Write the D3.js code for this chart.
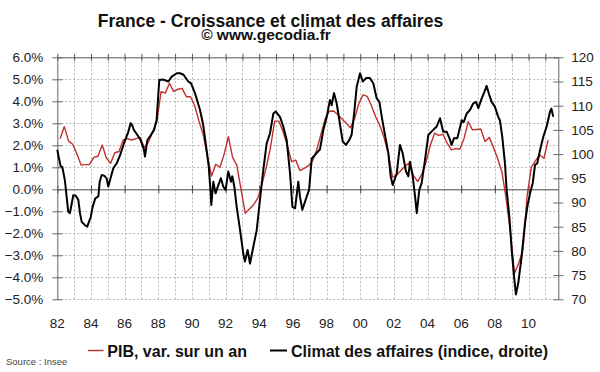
<!DOCTYPE html>
<html><head><meta charset="utf-8">
<script src="https://cdn.jsdelivr.net/npm/d3@7"></script>
<style>body{margin:0;background:#fff}svg{display:block}</style>
</head><body>
<svg id="chart" width="600" height="372"></svg>
<script>
// ---- data ----
const title = "France - Croissance et climat des affaires";
const subtitle = "© www.gecodia.fr";
const source = "Source : Insee";
const pibLabel = "PIB, var. sur un an";
const climatLabel = "Climat des affaires (indice, droite)";

const leftTicks = [-5, -4, -3, -2, -1, 0, 1, 2, 3, 4, 5, 6];
const rightTicks = [70, 75, 80, 85, 90, 95, 100, 105, 110, 115, 120];
const yearLabels = ["82","84","86","88","90","92","94","96","98","00","02","04","06","08","10"];
const yearTicks = [1982,1984,1986,1988,1990,1992,1994,1996,1998,2000,2002,2004,2006,2008,2010];

// quarterly GDP y/y growth (%) from 1982 Q1 to 2011 Q1
const pibStartYear = 1982;
const pibValues = [
  2.3, 2.85, 2.2, 2.05,
  1.6, 1.1, 1.12, 1.13,
  1.45, 1.5, 2.01, 1.42,
  1.18, 1.66, 1.72, 2.24,
  2.3, 2.24, 2.3, 2.36,
  1.89, 2.15, 2.6, 3.1,
  4.44, 4.37, 4.82, 4.44,
  4.55, 4.59, 4.21, 4.21,
  3.8, 3.1, 2.5, 1.48,
  0.6, 1.14, 1.0, 1.6,
  2.39, 1.45, 1.1, 0.0,
  -1.09, -0.9, -0.7, -0.4,
  0.25, 1.0, 1.9, 3.1,
  3.1, 2.6, 2.0, 1.26,
  1.33, 0.85, 0.95, 1.06,
  1.3, 1.8, 2.5, 3.2,
  3.55, 3.56, 3.4, 3.2,
  3.0, 2.8, 3.2, 3.9,
  4.29, 4.22, 3.8, 3.3,
  2.9, 2.35, 1.64, 0.55,
  0.65, 0.85, 1.05, 1.2,
  0.62, 0.35, 0.7, 1.25,
  2.0, 2.55, 2.45, 2.5,
  2.1, 1.79, 1.85, 1.82,
  2.3, 3.07, 2.7, 2.72,
  2.74, 2.17, 2.36, 1.9,
  1.4, 0.8, -0.4, -1.9,
  -3.82, -3.36, -2.76, -0.3,
  1.0, 1.3, 1.56, 1.41,
  2.24
];
const pibQuarters = pibValues.map((v, i) => (pibStartYear + Math.floor(i / 4)) + "T" + (i % 4 + 1));

// business climate index (right axis), dates as decimal years
const climatDates = [
  1982.00,1982.06,1982.20,1982.30,1982.45,1982.65,1982.75,1982.95,1983.10,1983.25,1983.35,1983.45,1983.65,1983.78,1983.90,1983.98,
  1984.10,1984.25,1984.44,1984.52,1984.64,1984.80,1984.93,1985.03,1985.13,1985.33,1985.53,1985.73,1985.96,
  1986.22,1986.36,1986.45,1986.55,1986.75,1986.95,1987.15,1987.21,1987.35,1987.50,1987.75,1987.90,
  1988.06,1988.30,1988.60,1988.80,1989.10,1989.30,1989.50,1989.78,1989.95,
  1990.18,1990.48,1990.67,1990.87,1991.00,1991.10,1991.15,1991.27,1991.40,1991.57,1991.72,1991.86,
  1992.00,1992.16,1992.32,1992.40,1992.52,1992.66,1992.86,1993.05,1993.15,1993.31,1993.45,1993.65,1993.85,
  1994.04,1994.24,1994.44,1994.64,1994.84,1994.98,1995.23,1995.43,1995.63,1995.83,1995.97,
  1996.13,1996.32,1996.42,1996.56,1996.82,1996.96,1997.12,1997.41,1997.61,1997.81,
  1998.01,1998.20,1998.30,1998.44,1998.60,1998.76,1998.96,1999.15,1999.35,1999.49,1999.65,1999.79,1999.99,
  2000.15,2000.35,2000.58,2000.78,2000.98,2001.14,2001.28,2001.47,2001.67,2001.81,2001.93,
  2002.17,2002.36,2002.52,2002.72,2002.86,2002.96,2003.12,2003.26,2003.36,2003.51,2003.65,2003.85,
  2004.05,2004.34,2004.54,2004.74,2004.93,2005.14,2005.30,2005.43,2005.57,2005.77,2005.89,
  2006.03,2006.15,2006.33,2006.52,2006.72,2006.88,2007.02,2007.22,2007.35,2007.51,2007.67,2007.81,
  2008.00,2008.20,2008.30,2008.44,2008.60,2008.70,2008.86,2009.00,2009.14,2009.25,2009.39,2009.59,2009.79,2009.93,
  2010.09,2010.25,2010.39,2010.52,2010.69,2010.88,2011.08,2011.28,2011.36,2011.47
];
const climatValues = [
  100.9,99.8,97.5,97.3,94.6,88.1,87.8,91.5,91.4,90.5,87.8,86.0,85.3,85.0,86.2,86.9,
  89.1,90.8,91.3,94.3,95.7,95.5,95.0,93.3,94.6,97.1,98.1,99.8,102.2,
  104.6,106.4,106.0,105.0,104.0,102.9,100.9,99.5,102.9,103.6,105.0,107.0,
  115.3,115.4,115.0,116.0,116.7,116.7,116.4,115.0,114.6,
  112.6,109.1,106.0,100.9,97.4,92.6,89.5,94.3,91.9,93.6,95.0,93.3,
  92.6,96.4,94.3,95.4,93.3,89.1,84.3,79.5,77.8,80.2,77.4,80.9,84.3,
  90.5,96.7,102.2,104.3,108.4,108.8,107.7,105.7,102.9,96.0,89.1,
  88.8,94.3,91.2,88.5,91.2,92.6,99.1,100.2,101.0,105.0,
  107.7,111.2,110.1,112.6,110.5,107.0,102.6,101.9,102.9,104.0,108.8,113.9,116.7,
  115.0,115.7,115.7,114.6,111.5,110.8,107.7,104.0,100.2,95.4,93.6,
  96.0,101.9,100.2,96.4,95.4,98.4,95.4,91.2,87.8,92.6,94.0,98.8,
  104.0,105.0,105.7,107.4,104.6,104.6,103.3,101.9,103.3,103.3,105.0,
  107.0,106.6,108.4,109.1,110.5,110.8,109.5,111.5,112.6,114.1,112.2,110.8,
  109.8,107.7,107.0,103.6,98.1,92.6,87.1,80.2,74.7,71.0,73.3,78.8,85.7,89.1,
  91.9,94.0,97.8,98.1,100.9,103.6,105.7,108.8,109.4,107.7
];

// ---- drawing ----
const svg = d3.select("#chart");
const font = "'Liberation Sans', Arial, Helvetica, sans-serif";
const L = 57.3, R = 558.3, T = 57.3, B = 299.3;

const x = d3.scaleLinear().domain([1982, 2011.77]).range([L, R]);
const yL = d3.scaleLinear().domain([-5, 6]).range([B, T]);
const yR = d3.scaleLinear().domain([70, 120]).range([B, T]);

const pibData = pibValues.map((v, i) => ({q: pibQuarters[i], t: pibStartYear + i / 4 + 2 / 12, v}));
const climatData = climatDates.map((t, i) => ({t, v: climatValues[i]}));

// gridlines
const grid = svg.append("g").attr("stroke", "#b8b8b8").attr("stroke-width", 1).attr("stroke-dasharray", "2,2");
grid.selectAll("line.h").data(leftTicks.filter(d => d !== 0 && d !== 6)).enter().append("line")
  .attr("x1", L).attr("x2", R).attr("y1", d => Math.round(yL(d)) + 0.5).attr("y2", d => Math.round(yL(d)) + 0.5);
const years = d3.range(1983, 2012);
grid.selectAll("line.v").data(years).enter().append("line")
  .attr("y1", T).attr("y2", B).attr("x1", d => Math.round(x(d)) + 0.5).attr("x2", d => Math.round(x(d)) + 0.5);

// top axis line with yearly ticks
const topAxis = d3.axisTop(x).tickValues(d3.range(1982, 2012)).tickSizeInner(-3.5).tickSizeOuter(0).tickFormat("");
svg.append("g").attr("transform", `translate(0,${T})`).call(topAxis)
  .call(g => g.selectAll(".tick line").attr("stroke", "#555").attr("y1", -3.5).attr("y2", 3.5))
  .call(g => g.select(".domain").attr("stroke", "#555"));

// zero line with ticks every 2 years
const zeroAxis = d3.axisBottom(x).tickValues(yearTicks).tickSizeOuter(0).tickFormat("");
svg.append("g").attr("transform", `translate(0,${yL(0)})`).call(zeroAxis)
  .call(g => g.selectAll(".tick line").attr("stroke", "#444").attr("y1", -4).attr("y2", 4))
  .call(g => g.select(".domain").attr("stroke", "#444"));

// x labels
svg.append("g").selectAll("text").data(yearTicks).enter().append("text")
  .attr("x", d => x(d)).attr("y", 327.7).attr("text-anchor", "middle")
  .attr("font-family", font).attr("font-size", 13.5).attr("fill", "#222")
  .text((d, i) => yearLabels[i]);

// left axis
const leftAxis = d3.axisLeft(yL).tickValues(leftTicks).tickSizeOuter(0)
  .tickFormat(d => d3.format(".1f")(d) + "%");
svg.append("g").attr("transform", `translate(${L},0)`).call(leftAxis)
  .call(g => g.select(".domain").attr("stroke", "#666"))
  .call(g => g.selectAll(".tick line").attr("stroke", "#666").attr("x1", -5).attr("x2", 5))
  .call(g => g.selectAll(".tick text").attr("x", -14).attr("font-family", font).attr("font-size", 13.5).attr("fill", "#222"));

// right axis
const rightAxis = d3.axisRight(yR).tickValues(rightTicks).tickSizeOuter(0);
svg.append("g").attr("transform", `translate(${R},0)`).call(rightAxis)
  .call(g => g.select(".domain").attr("stroke", "#666"))
  .call(g => g.selectAll(".tick line").attr("stroke", "#666").attr("x1", -5).attr("x2", 5))
  .call(g => g.selectAll(".tick text").attr("x", 13).attr("font-family", font).attr("font-size", 13.5).attr("fill", "#222"));

// lines
const pibLine = d3.line().x(d => x(d.t)).y(d => yL(d.v));
const climatLine = d3.line().x(d => x(d.t)).y(d => yR(d.v));
svg.append("path").datum(pibData).attr("d", pibLine).attr("fill", "none")
  .attr("stroke", "#c0302e").attr("stroke-width", 1.4).attr("stroke-linejoin", "round");
svg.append("path").datum(climatData).attr("d", climatLine).attr("fill", "none")
  .attr("stroke", "#000").attr("stroke-width", 2).attr("stroke-linejoin", "round");

// titles
svg.append("text").attr("x", 270.5).attr("y", 26.5).attr("text-anchor", "middle")
  .attr("font-family", font).attr("font-weight", "bold").attr("font-size", 17.5).attr("fill", "#111").text(title);
svg.append("text").attr("x", 266).attr("y", 40).attr("text-anchor", "middle")
  .attr("font-family", font).attr("font-weight", "bold").attr("font-size", 15.5).attr("fill", "#111").text(subtitle);

// legend
const leg = svg.append("g").attr("font-family", font).attr("font-weight", "bold").attr("font-size", 16).attr("fill", "#111");
leg.append("line").attr("x1", 88).attr("x2", 103.5).attr("y1", 350.5).attr("y2", 350.5).attr("stroke", "#c0302e").attr("stroke-width", 1.4);
leg.append("text").attr("x", 107.3).attr("y", 356.7).text(pibLabel);
leg.append("line").attr("x1", 270).attr("x2", 287).attr("y1", 350.5).attr("y2", 350.5).attr("stroke", "#000").attr("stroke-width", 2);
leg.append("text").attr("x", 291).attr("y", 356.7).text(climatLabel);

// source
svg.append("text").attr("x", 6).attr("y", 365).attr("font-family", font).attr("font-size", 9.5).attr("fill", "#444").text(source);
</script>
</body></html>
